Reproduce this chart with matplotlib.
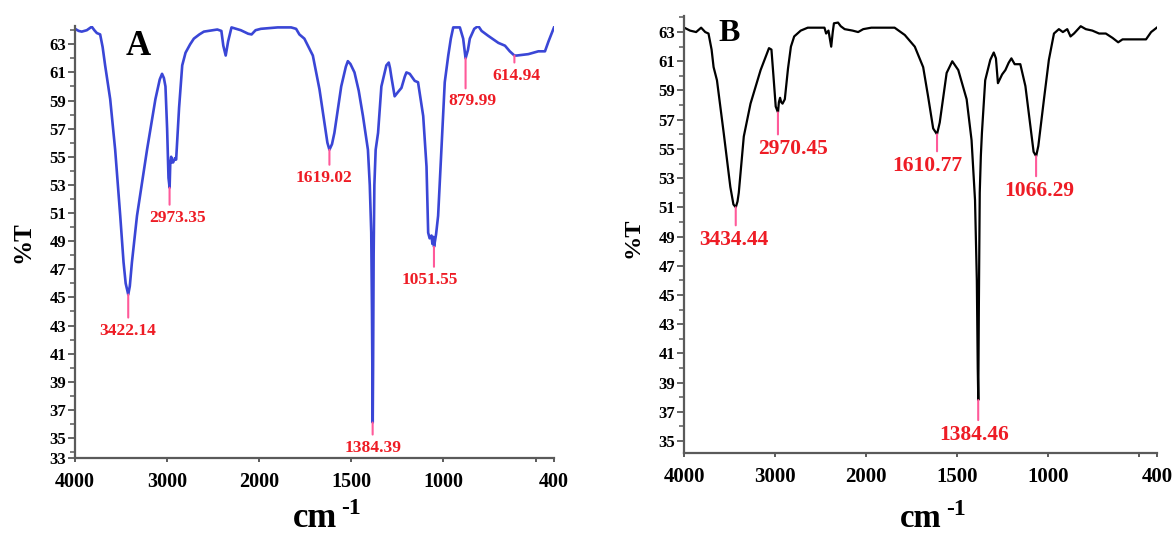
import numpy as np
import matplotlib
matplotlib.use("Agg")
import matplotlib.pyplot as plt
from matplotlib.ticker import FixedLocator, FixedFormatter

# ---------------- data ----------------
wn_A = [4000, 3960, 3927, 3872, 3818, 3790, 3763, 3727, 3700, 3673, 3618, 3564, 3509, 3473, 3450,
        3422, 3405, 3382, 3327, 3218, 3127, 3080, 3055, 3035, 3018, 3000, 2985, 2973, 2966, 2956,
        2945, 2935, 2915, 2902, 2870, 2836, 2800, 2750, 2710, 2650, 2601, 2455, 2411, 2390, 2364,
        2338, 2301, 2200, 2120, 2083, 2040, 1991, 1900, 1827, 1800, 1782, 1755, 1709, 1673, 1646,
        1630, 1619, 1605, 1592, 1555, 1530, 1519, 1505, 1483, 1460, 1437, 1410, 1400, 1392, 1388,
        1385, 1384, 1382, 1379, 1375, 1368, 1355, 1337, 1310, 1297, 1290, 1283, 1265, 1247, 1228,
        1210, 1201, 1183, 1156, 1138, 1110, 1092, 1083, 1075, 1065, 1060, 1055, 1051, 1040, 1029,
        1011, 993, 974, 960, 947, 911, 893, 880, 867, 857, 833, 811, 793, 757, 702, 666, 640, 615,
        602, 570, 539, 485, 449, 430, 400]
T_A = [64.1, 63.95, 63.9, 64.0, 64.25, 64.0, 63.8, 63.7, 62.8, 61.5, 59.1, 55.5, 50.8, 47.5, 46.0,
       45.2, 45.8, 47.5, 50.8, 55.5, 59.1, 60.5, 60.9, 60.6, 60.0, 57.0, 53.5, 52.8, 54.5, 55.0,
       54.6, 54.6, 54.9, 54.8, 58.5, 61.5, 62.4, 63.0, 63.4, 63.7, 63.9, 64.05, 63.95, 62.9, 62.2,
       63.2, 64.2, 64.0, 63.75, 63.7, 64.0, 64.1, 64.2, 64.2, 64.1, 63.7, 63.4, 62.2, 59.8, 57.4,
       56.0, 55.5, 55.9, 56.7, 60.0, 61.4, 61.8, 61.6, 61.0, 59.7, 57.9, 55.5, 53.0, 49.6, 44.0,
       38.0, 36.1, 40.0, 48.0, 53.0, 55.5, 56.7, 60.0, 61.5, 61.7, 61.3, 60.7, 59.3, 59.6, 59.9,
       60.7, 61.0, 60.9, 60.4, 60.3, 57.9, 54.3, 49.6, 49.2, 49.4, 48.8, 49.3, 48.6, 49.5, 50.8,
       55.5, 60.3, 62.2, 63.4, 64.2, 64.2, 63.4, 62.0, 62.6, 63.4, 64.1, 64.3, 63.95, 63.6, 63.1,
       62.9, 62.5, 62.2, 62.2, 62.25, 62.3, 62.5, 62.5, 63.2, 64.2]

wn_B = [4000, 3937, 3870, 3815, 3770, 3734, 3700, 3678, 3641, 3567, 3494, 3460, 3434, 3415, 3401,
        3346, 3272, 3161, 3069, 3042, 3020, 2995, 2970, 2960, 2947, 2935, 2920, 2895, 2860, 2828,
        2792, 2720, 2643, 2459, 2441, 2415, 2385, 2368, 2355, 2310, 2280, 2237, 2150, 2089, 2033,
        1972, 1899, 1844, 1788, 1733, 1687, 1660, 1632, 1611, 1596, 1558, 1527, 1494, 1448, 1421,
        1402, 1392, 1387, 1384, 1381, 1376, 1370, 1364, 1346, 1318, 1299, 1287, 1276, 1253, 1235,
        1217, 1202, 1184, 1153, 1125, 1097, 1080, 1066, 1054, 1023, 996, 968, 941, 919, 895, 877,
        858, 821, 793, 757, 720, 683, 646, 615, 591, 517, 462, 434, 403]
T_B = [63.3, 63.1, 63.0, 63.3, 63.0, 62.9, 61.8, 60.6, 59.7, 56.1, 52.4, 51.2, 51.0, 51.4, 52.0,
       55.85, 58.1, 60.4, 61.9, 61.8, 60.0, 57.9, 57.5, 58.2, 58.5, 58.2, 58.1, 58.4, 60.5, 62.0,
       62.7, 63.1, 63.3, 63.3, 62.9, 63.1, 62.0, 63.0, 63.6, 63.65, 63.4, 63.2, 63.1, 63.0, 63.2,
       63.3, 63.3, 63.3, 62.8, 62.0, 60.6, 58.6, 56.4, 56.0, 56.8, 60.2, 61.0, 60.4, 58.4, 55.6,
       51.5, 46.0, 40.0, 37.8, 44.0, 52.0, 54.5, 56.1, 59.7, 61.1, 61.6, 61.2, 59.5, 60.1, 60.4,
       60.9, 61.2, 60.8, 60.8, 59.3, 56.5, 54.8, 54.5, 55.2, 58.4, 61.1, 62.9, 63.2, 63.0, 63.2, 62.7,
       62.9, 63.4, 63.2, 63.1, 62.9, 62.9, 62.6, 62.3, 62.5, 62.5, 62.5, 63.0, 63.3]

peaks_A = [3422.14, 2973.35, 1619.02, 1384.39, 1051.55, 879.99, 614.94]
peakT_A = [45.2, 52.8, 55.5, 36.1, 48.6, 62.0, 62.2]
peaks_B = [3434.44, 2970.45, 1610.77, 1384.46, 1066.29]
peakT_B = [51.0, 57.5, 56.0, 37.8, 54.5]

xtick_vals = [4000, 3000, 2000, 1500, 1000, 500, 400]
xtick_labels = ["4000", "3000", "2000", "1500", "1000", "", "400"]
ytick_vals_A = [33, 35, 37, 39, 41, 43, 45, 47, 49, 51, 53, 55, 57, 59, 61, 63]
ytick_labels_A = ["33", "35", "37", "39", "41", "43", "45", "47", "49", "51", "53", "55", "57", "59", "61", "63"]
ytick_vals_B = [35, 37, 39, 41, 43, 45, 47, 49, 51, 53, 55, 57, 59, 61, 63]
ytick_labels_B = ["35", "37", "39", "41", "43", "45", "47", "49", "51", "53", "55", "57", "59", "61", "63"]

# ---------------- style ----------------
SERIF = ["Liberation Serif", "DejaVu Serif"]
plt.rcParams["font.family"] = SERIF
plt.rcParams["font.weight"] = "bold"
SPINE = "#5a5a5a"
RED = "#ee1c25"
PINK = "#ff5a9a"

# stem length (px) and label x offset (px) per peak
stem_A = [23, 17, 15, 12, 20, 30, 7]
dx_A = [-1, 8, -5, 0, -4, 7, 2]
stem_B = [18, 22, 17, 20, 20]
dx_B = [-2, 15, -10, -4, 3]


def fwd(x):
    x = np.asarray(x, dtype=float)
    return np.where(x >= 2000, x, 2 * x - 2000)


def inv(t):
    t = np.asarray(t, dtype=float)
    return np.where(t >= 2000, t, (t + 2000) / 2)


fig = plt.figure(figsize=(11.73, 5.34), dpi=100)
axA = fig.add_axes([75 / 1173, (534 - 457.7) / 534, (554 - 75) / 1173, (457.7 - 26) / 534])
axB = fig.add_axes([684.3 / 1173, (534 - 452.7) / 534, (1157.3 - 684.3) / 1173, (452.7 - 16) / 534])


def setup(ax, ylim, yvals, ylabels, xfs, yfs, ylab_pos, ylab_fs, cm_y, cm_fs, sup_fs,
          letter, letter_pos, letter_fs):
    ax.set_xscale("function", functions=(fwd, inv))
    ax.set_xlim(4000, 400)
    ax.set_ylim(*ylim)
    ax.xaxis.set_major_locator(FixedLocator(xtick_vals))
    ax.xaxis.set_major_formatter(FixedFormatter(xtick_labels))
    ax.xaxis.set_minor_locator(FixedLocator([]))
    # lowest label sits on the axis floor when its value lies just below it
    ypos = [max(v, ylim[0]) for v in yvals]
    ax.yaxis.set_major_locator(FixedLocator(ypos))
    ax.yaxis.set_major_formatter(FixedFormatter(ylabels))
    ax.yaxis.set_minor_locator(FixedLocator([v for v in range(34, 65, 2) if ylim[0] < v < ylim[1]]))
    for s in ["top", "right"]:
        ax.spines[s].set_visible(False)
    for s in ["left", "bottom"]:
        ax.spines[s].set_color(SPINE)
        ax.spines[s].set_linewidth(1.6)
    ax.tick_params(axis="x", which="major", direction="out", length=3, width=1.4, color=SPINE,
                   labelsize=xfs, pad=7)
    ax.tick_params(axis="y", which="major", direction="out", length=5, width=1.3, color=SPINE,
                   labelsize=yfs, pad=1.5)
    ax.tick_params(axis="y", which="minor", direction="out", length=3.5, width=1.1, color=SPINE)
    for lab in ax.get_xticklabels() + ax.get_yticklabels():
        lab.set_fontweight("bold")
    ax.text(ylab_pos[0], ylab_pos[1], "%T", transform=ax.transAxes, rotation=90, ha="center",
            va="center", fontsize=ylab_fs, fontweight="bold")
    cm = ax.text(0.5, cm_y, "cm", transform=ax.transAxes, ha="center", va="baseline",
                 fontsize=cm_fs, fontweight="bold")
    ax.annotate("-1", xy=(1, 1), xycoords=cm, xytext=(3, 3), textcoords="offset points",
                ha="left", va="top", fontsize=sup_fs, fontweight="bold")
    ax.text(letter_pos[0], letter_pos[1], letter, transform=ax.transAxes, ha="center", va="center",
            fontsize=letter_fs, fontweight="bold")


def peaks(ax, wns, Ts, stems, dxs, fs):
    for w, t, st, dx in zip(wns, Ts, stems, dxs):
        ax.annotate("", xy=(w, t), xytext=(0, -st * 0.72), textcoords="offset points",
                    xycoords="data",
                    arrowprops=dict(arrowstyle="-", color=PINK, lw=1.5, shrinkA=0, shrinkB=0))
        ax.annotate(f"{w:.2f}", xy=(w, t), xytext=(dx * 0.72, -(st + 5) * 0.72),
                    textcoords="offset points", ha="center", va="top", color=RED,
                    fontsize=fs, fontweight="bold")


axA.plot(wn_A, T_A, color="#3a46d6", lw=1.9, solid_joinstyle="round")
setup(axA, (33.6, 64.3), ytick_vals_A, ytick_labels_A, 14.5, 12, (-0.109, 0.50), 18, -0.1605,
      25, 17, "A", (0.132, 0.952), 25)
peaks(axA, peaks_A, peakT_A, stem_A, dx_A, 12.5)

axB.plot(wn_B, T_B, color="black", lw=1.6, solid_joinstyle="round")
setup(axB, (34.2, 64.1), ytick_vals_B, ytick_labels_B, 15, 12, (-0.109, 0.493), 17.5, -0.170,
      23.5, 17, "B", (0.0945, 0.961), 23)
peaks(axB, peaks_B, peakT_B, stem_B, dx_B, 15.5)

fig.savefig("out.png", dpi=100)
